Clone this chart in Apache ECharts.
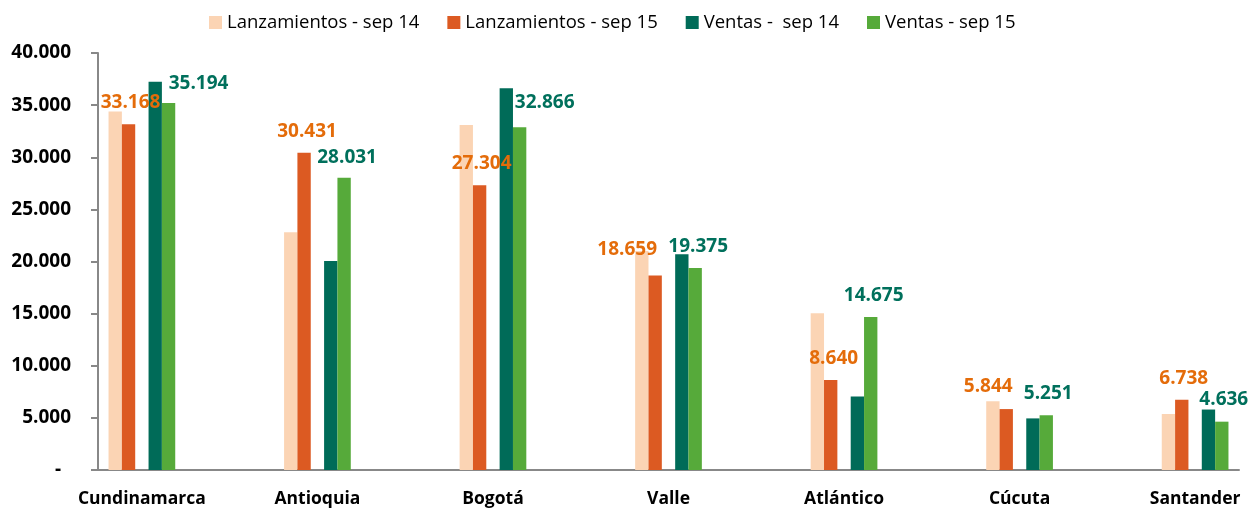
<!DOCTYPE html>
<html>
<head>
<meta charset="utf-8">
<script src="https://cdn.jsdelivr.net/npm/echarts@6/dist/echarts.min.js"></script>
<style>
    html, body { margin: 0; padding: 0; background: #fff; }
    #chart { width: 1250px; height: 508px; }
</style>
</head>
<body>
<div id="chart"></div>
<script>
    // categorias (con huecos vacios entre departamentos, como en el original)
    var categories = ['Cundinamarca', '', 'Antioquia', '', 'Bogotá', '', 'Valle', '', 'Atlántico', '', 'Cúcuta', '', 'Santander'];
    var seriesNames = ['Lanzamientos - sep 14', 'Lanzamientos - sep 15', 'Ventas -  sep 14', 'Ventas - sep 15'];

    var lanz14 = [34400, null, 22800, null, 33100, null, 21000, null, 15030, null, 6600, null, 5370];
    var lanz15 = [33168, null, 30431, null, 27304, null, 18659, null, 8640, null, 5844, null, 6738];
    var ventas14 = [37250, null, 20050, null, 36620, null, 20700, null, 7050, null, 4950, null, 5800];
    var ventas15 = [35194, null, 28031, null, 32866, null, 19375, null, 14675, null, 5251, null, 4636];

    var yTicks = [0, 5000, 10000, 15000, 20000, 25000, 30000, 35000, 40000];

    // desplazamiento de etiquetas [dx, dy]
    var lanz15LabelShift = [[2, 0], null, [3, 0], null, [2, 0], null, [-28, -4], null, [3, 0], null, [-18, -1], null, [2, 0]];
    var ventas15LabelShift = [[30, 2], null, [3, 1], null, [25, -3], null, [3, 0], null, [3, 0], null, [2, 0], null, [2, -1]];

    function fmt(v) {
        if (v === 0) return '-  ';
        return String(v).replace(/\B(?=(\d{3})+(?!\d))/g, '.');
    }

    function withLabels(values, shifts) {
        return values.map(function (v, i) {
            if (v == null) return null;
            return { value: v, label: { offset: shifts[i] } };
        });
    }

    var boldFont = { fontFamily: 'Open Sans', fontWeight: 'bold' };

    var chart = echarts.init(document.getElementById('chart'));
    chart.setOption({
        animation: false,
        textStyle: { fontFamily: 'Open Sans' },
        legend: {
            data: seriesNames,
            top: 8,
            left: 204,
            icon: 'rect',
            itemWidth: 13,
            itemHeight: 13,
            itemGap: 28,
            textStyle: { fontSize: 18.5, color: '#000', fontFamily: 'Open Sans' }
        },
        grid: { left: 98, right: 11, top: 53, bottom: 38 },
        xAxis: {
            type: 'category',
            data: categories,
            axisLine: { lineStyle: { color: '#888', width: 2 } },
            axisTick: { length: 6, lineStyle: { color: '#888', width: 2 } },
            axisLabel: {
                interval: 0,
                margin: 20,
                color: '#000',
                fontSize: 17.5,
                fontFamily: boldFont.fontFamily,
                fontWeight: boldFont.fontWeight
            }
        },
        yAxis: {
            type: 'value',
            min: yTicks[0],
            max: yTicks[yTicks.length - 1],
            interval: 5000,
            splitLine: { show: false },
            axisLine: { show: true, lineStyle: { color: '#888', width: 2 } },
            axisTick: { show: true, length: 7, lineStyle: { color: '#888', width: 2 } },
            axisLabel: {
                margin: 27,
                color: '#000',
                fontSize: 19,
                padding: [6, 0, 0, 0],
                fontFamily: boldFont.fontFamily,
                fontWeight: boldFont.fontWeight,
                formatter: fmt
            }
        },
        series: [
            {
                name: seriesNames[0], type: 'bar', data: lanz14,
                barGap: '0%', barCategoryGap: '24%',
                itemStyle: { color: '#FBD4B4' }
            },
            {
                name: seriesNames[1], type: 'bar', data: withLabels(lanz15, lanz15LabelShift),
                itemStyle: { color: '#DC5A22' },
                label: {
                    show: true, position: 'top', distance: 12,
                    color: '#E46C0A', fontSize: 19,
                    fontFamily: boldFont.fontFamily, fontWeight: boldFont.fontWeight,
                    formatter: function (p) { return fmt(p.value); }
                }
            },
            { name: 'hueco', type: 'bar', data: [] },
            {
                name: seriesNames[2], type: 'bar', data: ventas14,
                itemStyle: { color: '#006B58' }
            },
            {
                name: seriesNames[3], type: 'bar', data: withLabels(ventas15, ventas15LabelShift),
                itemStyle: { color: '#56AA3A' },
                label: {
                    show: true, position: 'top', distance: 12,
                    color: '#00705C', fontSize: 19,
                    fontFamily: boldFont.fontFamily, fontWeight: boldFont.fontWeight,
                    formatter: function (p) { return fmt(p.value); }
                }
            }
        ]
    });
</script>
</body>
</html>
